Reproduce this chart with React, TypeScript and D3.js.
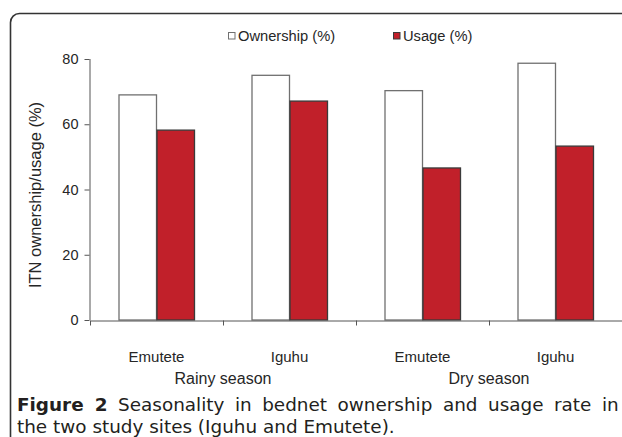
import { useEffect, useRef } from 'react'
import { axisBottom, axisLeft, scaleBand, scaleLinear, select } from 'd3'

// values
const sites = ['Emutete', 'Iguhu', 'Emutete', 'Iguhu']
const seasons = ['Rainy season', 'Dry season']
const seriesNames = ['Ownership (%)', 'Usage (%)']
const ownership = [69.0, 75.0, 70.3, 78.7]
const usage = [58.2, 67.1, 46.6, 53.3]
const yTicks = [0, 20, 40, 60, 80]

const width = 622
const height = 437
const plot = { left: 90, right: 622, top: 59, bottom: 320 }

const seriesColors = ['#ffffff', '#c1202a']
const seriesStrokes = ['#707070', '#3a3a3a']
const textColor = '#262626'
const captionColor = '#231f20'
const chartFont = 'Liberation Sans, Arial, Helvetica, sans-serif'
const captionFont = 'DejaVu Sans, Verdana, sans-serif'

export default function App() {
  const xAxisRef = useRef<SVGGElement>(null)
  const yAxisRef = useRef<SVGGElement>(null)
  const captionRef = useRef<SVGTextElement>(null)

  const groupKeys = sites.map((_, i) => String(i))

  const x0 = scaleBand<string>()
    .domain(groupKeys)
    .range([plot.left, plot.right])
    .padding(0)

  const x1 = scaleBand<string>()
    .domain(seriesNames)
    .range([0, x0.bandwidth()])
    .paddingInner(0)
    .paddingOuter(0.75)

  const y = scaleLinear().domain([0, 80]).range([plot.bottom, plot.top])

  const series = [ownership, usage]

  useEffect(() => {
    if (!yAxisRef.current) return
    const g = select(yAxisRef.current)
    g.call(axisLeft(y).tickValues(yTicks).tickSize(5).tickSizeOuter(0).tickPadding(6))
    g.select('.domain').attr('stroke', '#555').attr('d', `M0.5,${plot.bottom}V${plot.top}`)
    g.selectAll('.tick line').attr('stroke', '#555')
    g.selectAll('.tick text')
      .attr('fill', textColor)
      .style('font-family', chartFont)
      .style('font-size', '14.5px')
  }, [])

  useEffect(() => {
    if (!xAxisRef.current) return
    const g = select(xAxisRef.current)
    // ticks at the band boundaries, as in the original
    const boundaries = [plot.left, ...groupKeys.map((k) => (x0(k) ?? 0) + x0.bandwidth())]
    const edge = scaleLinear().domain([plot.left, plot.right]).range([plot.left, plot.right])
    g.call(
      axisBottom(edge)
        .tickValues(boundaries)
        .tickSize(5)
        .tickSizeOuter(0)
        .tickFormat(() => ''),
    )
    g.select('.domain').attr('stroke', '#555')
    g.selectAll('.tick line').attr('stroke', '#555')
  }, [])

  // first caption line is justified in the original
  useEffect(() => {
    const el = captionRef.current
    if (!el) return
    const natural = el.getComputedTextLength()
    const spaces = 8
    el.setAttribute('word-spacing', String((597 - natural) / spaces))
  }, [])

  return (
    <svg
      width={width}
      height={height}
      viewBox={`0 0 ${width} ${height}`}
      style={{ position: 'absolute', left: 0, top: 0, background: '#fff' }}
    >
      <rect
        x={10.5}
        y={13.5}
        width={700}
        height={520}
        rx={9}
        fill="#fff"
        stroke="#333"
        strokeWidth={1.6}
      />

      {/* legend */}
      <g fontFamily={chartFont} fontSize={14.7} fill={textColor}>
        {seriesNames.map((name, i) => {
          const lx = i === 0 ? 228 : 393
          return (
            <g key={name}>
              <rect
                x={lx + 0.5}
                y={32.5}
                width={6.5}
                height={6.5}
                fill={seriesColors[i]}
                stroke={seriesStrokes[i]}
                strokeWidth={1}
              />
              <text x={lx + 10} y={41}>
                {name}
              </text>
            </g>
          )
        })}
      </g>

      {/* bars */}
      {groupKeys.map((key, gi) => (
        <g key={key} transform={`translate(${x0(key)},0)`}>
          {seriesNames.map((name, si) => {
            const v = series[si][gi]
            return (
              <rect
                key={name}
                x={(x1(name) ?? 0) + 0.5}
                y={y(v)}
                width={x1.bandwidth() - 0.5}
                height={plot.bottom - y(v)}
                fill={seriesColors[si]}
                stroke={seriesStrokes[si]}
                strokeWidth={1.3}
              />
            )
          })}
        </g>
      ))}

      <g ref={yAxisRef} transform={`translate(${plot.left - 0.5},0)`} />
      <g ref={xAxisRef} transform={`translate(0,${plot.bottom + 0.5})`} />

      {/* category labels */}
      <g fontFamily={chartFont} fill={textColor} textAnchor="middle">
        {groupKeys.map((key, gi) => (
          <text key={key} x={(x0(key) ?? 0) + x0.bandwidth() / 2} y={362} fontSize={15}>
            {sites[gi]}
          </text>
        ))}
        {seasons.map((s, i) => (
          <text key={s} x={x0(String(i * 2 + 1)) ?? 0} y={384} fontSize={16}>
            {s}
          </text>
        ))}
        <text transform="translate(41,195) rotate(-90)" fontSize={16.5}>
          ITN ownership/usage (%)
        </text>
      </g>

      {/* caption */}
      <g fontFamily={captionFont} fontSize={18.4} fill={captionColor}>
        <text ref={captionRef} x={17} y={411}>
          <tspan fontWeight="bold">Figure 2</tspan>
          <tspan> Seasonality in bednet ownership and usage rate in</tspan>
        </text>
        <text x={17} y={433}>
          the two study sites (Iguhu and Emutete).
        </text>
      </g>
    </svg>
  )
}
